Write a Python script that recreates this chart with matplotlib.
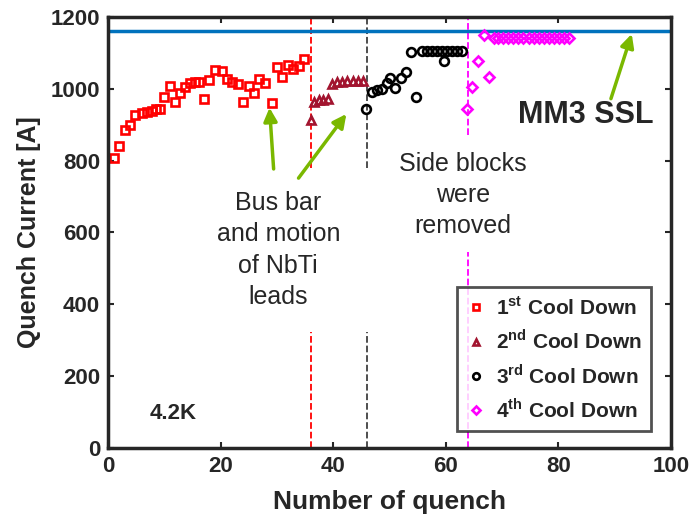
import numpy as np
import matplotlib
matplotlib.use("Agg")
import matplotlib.pyplot as plt

plt.rcParams['font.family'] = ['Liberation Sans', 'DejaVu Sans']
plt.rcParams['mathtext.fontset'] = 'custom'
plt.rcParams['mathtext.rm'] = 'Liberation Sans'
plt.rcParams['mathtext.bf'] = 'Liberation Sans:bold'

# 1st cool down
x1 = [1.0, 1.9, 2.9, 3.8, 4.8, 5.9, 6.8, 7.7, 8.4, 9.2, 9.9, 10.9, 11.8, 12.7, 13.6,
      14.5, 15.3, 16.1, 16.9, 17.9, 18.9, 20.1, 21.0, 21.9, 23.0, 24.0, 24.9, 25.9,
      26.8, 27.8, 29.0, 29.9, 30.8, 31.9, 32.9, 33.8, 34.8]
y1 = [808, 840, 885, 900, 927, 933, 936, 939, 943, 943, 978, 1009, 964, 989, 1006,
      1015, 1020, 1018, 972, 1025, 1053, 1050, 1026, 1019, 1013, 963, 1008, 987,
      1026, 1015, 961, 1060, 1034, 1067, 1055, 1062, 1084]
# 2nd cool down
x2 = [36.0, 36.6, 37.4, 38.2, 39.1, 39.8, 40.7, 41.6, 42.5, 43.4, 44.3, 45.2]
y2 = [913, 962, 968, 970, 972, 1012, 1018, 1020, 1021, 1022, 1022, 1022]
# 3rd cool down
x3 = [45.8, 46.8, 47.7, 48.6, 49.5, 50.0, 51.0, 52.0, 52.9, 53.8, 54.7, 55.7, 56.6,
      57.5, 58.4, 59.3, 59.6, 60.2, 61.1, 62.0, 62.9]
y3 = [945, 992, 997, 999, 1015, 1031, 1001, 1029, 1046, 1101, 978, 1104, 1105,
      1106, 1104, 1104, 1078, 1106, 1104, 1105, 1104]
# 4th cool down
x4 = [63.7, 64.6, 65.7, 66.7, 67.6, 68.5, 69.3, 70.2, 71.1, 72.0, 72.9, 73.8, 74.7,
      75.6, 76.5, 77.4, 78.3, 79.2, 80.1, 81.0, 81.9]
y4 = [945, 1006, 1076, 1149, 1034, 1141, 1142, 1142, 1142, 1142, 1142, 1142, 1142,
      1142, 1142, 1142, 1142, 1142, 1142, 1142, 1142]

ssl_current = 1160
labels = [r'1$^{\mathbf{st}}$ Cool Down', r'2$^{\mathbf{nd}}$ Cool Down',
          r'3$^{\mathbf{rd}}$ Cool Down', r'4$^{\mathbf{th}}$ Cool Down']

dark = '#262626'
green = '#7AB800'

fig = plt.figure(figsize=(6.91, 5.2), dpi=100)
ax = fig.add_axes([0.157, 0.1385, 0.8138, 0.829])

# dashed separators (with gaps behind the annotation text)
ax.plot([36, 36], [0, 322], '--', color='red', lw=1.3)
ax.plot([36, 36], [778, 1200], '--', color='red', lw=1.3)
ax.plot([46, 46], [0, 322], '--', color='#404040', lw=1.3)
ax.plot([46, 46], [778, 1200], '--', color='#404040', lw=1.3)
ax.plot([64, 64], [0, 545], '--', color='magenta', lw=1.3)
ax.plot([64, 64], [870, 1200], '--', color='magenta', lw=1.3)

ax.axhline(ssl_current, color='#0072BD', lw=2.5)

ms = 6.3
h1, = ax.plot(x1, y1, 's', mfc='none', mec='red', mew=1.9, ms=ms)
h2, = ax.plot(x2, y2, '^', mfc='none', mec='#A2142F', mew=1.9, ms=ms)
h3, = ax.plot(x3, y3, 'o', mfc='none', mec='black', mew=1.9, ms=ms)
h4, = ax.plot(x4, y4, 'D', mfc='none', mec='magenta', mew=1.9, ms=ms * 0.8)

ax.set_xlim(0, 100)
ax.set_ylim(0, 1200)
ax.set_xticks(np.arange(0, 101, 20))
ax.set_yticks(np.arange(0, 1201, 200))
ax.tick_params(direction='in', length=4, width=1.5, top=True, right=True,
               labelsize=16, colors=dark, pad=6)
for lab in ax.get_xticklabels() + ax.get_yticklabels():
    lab.set_fontweight('bold')
for sp in ax.spines.values():
    sp.set_linewidth(2.5)
    sp.set_color(dark)

ax.set_xlabel('Number of quench', fontsize=19, fontweight='bold', color=dark, labelpad=9)
ax.set_ylabel('Quench Current [A]', fontsize=18, fontweight='bold', color=dark, labelpad=7)

# annotations
ax.text(30.2, 551, 'Bus bar\nand motion\nof NbTi\nleads', ha='center', va='center',
        fontsize=18, color=dark, linespacing=1.38)
ax.text(63.0, 705, 'Side blocks\nwere\nremoved', ha='center', va='center',
        fontsize=18, color=dark, linespacing=1.38)
ax.text(84.8, 926, 'MM3 SSL', ha='center', va='center', fontsize=22,
        fontweight='bold', color=dark)
ax.text(11.5, 95, '4.2K', ha='center', va='center', fontsize=16,
        fontweight='bold', color=dark)

arrow = dict(arrowstyle='-|>,head_length=0.8,head_width=0.4', color=green, lw=2.5)
ax.annotate('', xy=(28.6, 955), xytext=(29.4, 769), arrowprops=arrow)
ax.annotate('', xy=(42.6, 936), xytext=(33.5, 745), arrowprops=arrow)
ax.annotate('', xy=(93.2, 1160), xytext=(89.2, 965), arrowprops=arrow)

leg = ax.legend([h1, h2, h3, h4], labels, loc='lower right',
                bbox_to_anchor=(0.972, 0.03), fontsize=15, frameon=True,
                fancybox=False, edgecolor=dark, handletextpad=0.5,
                labelspacing=0.5, borderpad=0.45, handlelength=0.9,
                markerscale=0.75, borderaxespad=0.2)
leg.get_frame().set_linewidth(2)
for t in leg.get_texts():
    t.set_fontweight('bold')
    t.set_color(dark)

fig.savefig('out.png', dpi=100)
